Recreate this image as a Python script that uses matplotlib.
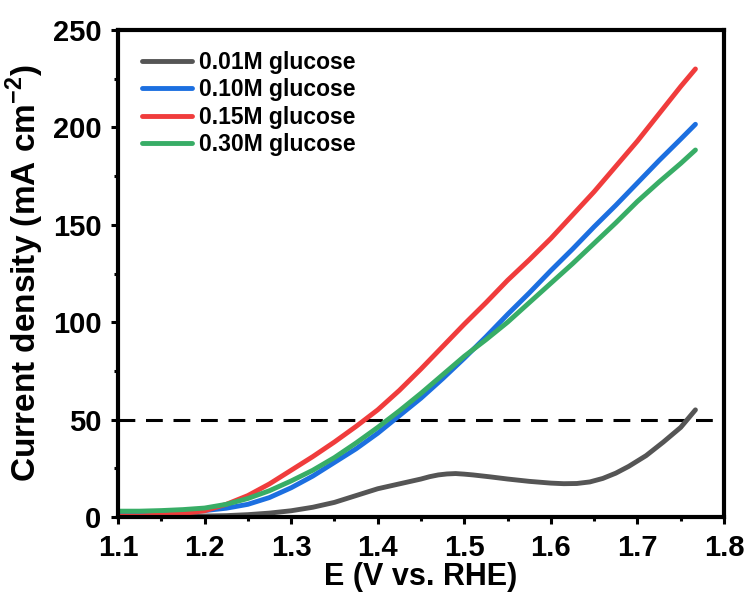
import matplotlib
matplotlib.use('Agg')
import matplotlib.pyplot as plt
from matplotlib.ticker import MultipleLocator

plt.rcParams['font.family'] = ['Liberation Sans', 'DejaVu Sans']
plt.rcParams['font.weight'] = 'bold'
plt.rcParams['mathtext.fontset'] = 'custom'
plt.rcParams['mathtext.rm'] = 'Liberation Sans:bold'
plt.rcParams['mathtext.bf'] = 'Liberation Sans:bold'

# потенциал, В (отсчитано с картинки)
E_001 = [1.100, 1.150, 1.200, 1.225, 1.250, 1.275, 1.300, 1.325, 1.350, 1.375,
         1.400, 1.425, 1.450, 1.460, 1.470, 1.480, 1.490, 1.500, 1.510, 1.530,
         1.550, 1.575, 1.600, 1.615, 1.630, 1.645, 1.660, 1.675, 1.690, 1.710,
         1.730, 1.750, 1.767]
j_001 = [0.5, 0.5, 0.5, 0.7, 1.2, 2.0, 3.2, 5.0, 7.5, 11.0,
         14.5, 17.0, 19.5, 20.7, 21.6, 22.1, 22.3, 22.0, 21.6, 20.6,
         19.5, 18.3, 17.4, 17.1, 17.2, 18.0, 19.8, 22.5, 26.0, 31.5,
         38.5, 46.0, 55.0]

E = [1.100, 1.125, 1.150, 1.175, 1.200, 1.225, 1.250, 1.275, 1.300, 1.325,
     1.350, 1.375, 1.400, 1.425, 1.450, 1.475, 1.500, 1.525, 1.550, 1.575,
     1.600, 1.625, 1.650, 1.675, 1.700, 1.725, 1.750, 1.767]
j_010 = [2.0, 2.2, 2.5, 2.8, 3.3, 4.5, 6.5, 10.0, 15.0, 21.0,
         28.0, 35.0, 43.0, 52.0, 61.0, 71.0, 81.5, 92.5, 104.0, 115.0,
         126.5, 137.5, 149.0, 160.0, 171.5, 183.0, 194.0, 201.6]
j_015 = [0.5, 0.5, 1.0, 1.8, 3.2, 6.5, 11.0, 17.0, 24.0, 31.0,
         38.5, 46.5, 55.0, 65.0, 76.0, 87.5, 99.0, 110.0, 121.5, 132.0,
         143.0, 155.0, 167.0, 180.0, 193.0, 207.0, 221.0, 230.0]
j_030 = [3.0, 3.0, 3.3, 3.8, 4.6, 6.5, 9.5, 13.5, 18.5, 24.0,
         30.5, 38.0, 46.0, 54.5, 63.5, 73.0, 82.5, 91.0, 100.0, 110.0,
         120.0, 130.0, 140.5, 151.0, 162.0, 172.0, 181.5, 188.4]

labels = ['0.01M glucose', '0.10M glucose', '0.15M glucose', '0.30M glucose']
colors = ['#555555', '#1c6fe0', '#f03c3c', '#38ad66']

fig = plt.figure(figsize=(7.49, 5.99), dpi=100)
ax = fig.add_axes([118/749, 1 - 517/599, 606/749, 487/599])

ax.axhline(50, color='black', lw=2.2, ls=(0, (5.5, 3.5)), zorder=1)

lw = 3.5
ax.plot(E_001, j_001, color=colors[0], lw=lw, label=labels[0], solid_capstyle='round')
ax.plot(E, j_010, color=colors[1], lw=lw, label=labels[1], solid_capstyle='round')
ax.plot(E, j_015, color=colors[2], lw=lw, label=labels[2], solid_capstyle='round')
ax.plot(E, j_030, color=colors[3], lw=lw, label=labels[3], solid_capstyle='round')

ax.set_xlim(1.1, 1.8)
ax.set_ylim(0, 250)
ax.xaxis.set_major_locator(MultipleLocator(0.1))
ax.xaxis.set_minor_locator(MultipleLocator(0.05))
ax.yaxis.set_major_locator(MultipleLocator(50))
ax.yaxis.set_minor_locator(MultipleLocator(25))

for s in ax.spines.values():
    s.set_linewidth(3)
ax.tick_params(which='major', direction='out', length=5, width=2.2, labelsize=21, pad=7)
ax.tick_params(which='minor', direction='out', length=3, width=2.2)
ax.tick_params(top=False, right=False, which='both')

ax.set_xlabel('E (V vs. RHE)', fontsize=22, fontweight='bold', labelpad=0)
ax.set_ylabel('Current density (mA cm$^{-2}$)', fontsize=24, fontweight='bold', labelpad=5)

ax.legend(loc='upper left', bbox_to_anchor=(0.032, 0.967), frameon=False,
          fontsize=16.5, handlelength=2.2, handletextpad=0.3, labelspacing=0.2,
          borderaxespad=0, borderpad=0.2)

plt.savefig('out.png', dpi=100)
